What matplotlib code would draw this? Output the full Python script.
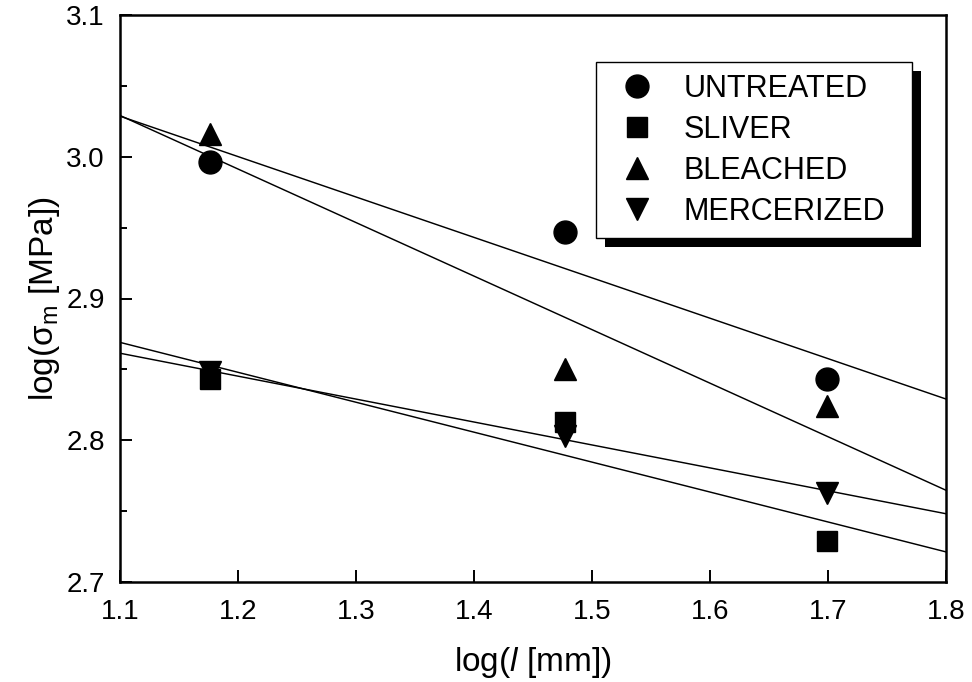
import numpy as np
import matplotlib
matplotlib.use('Agg')
import matplotlib.pyplot as plt
from matplotlib.patches import Rectangle
from matplotlib.transforms import IdentityTransform
from matplotlib.ticker import MultipleLocator

plt.rcParams['font.family'] = ['Liberation Sans', 'DejaVu Sans']
plt.rcParams['mathtext.fontset'] = 'custom'
plt.rcParams['mathtext.rm'] = 'Liberation Sans'
plt.rcParams['mathtext.it'] = 'Liberation Sans:italic'

# log of gauge length (mm) and log of strength (MPa)
log_l = [1.176, 1.477, 1.699]
untreated = [2.996, 2.947, 2.843]
sliver = [2.843, 2.813, 2.729]
bleached = [3.016, 2.850, 2.824]
mercerized = [2.848, 2.803, 2.763]

labels = ['UNTREATED', 'SLIVER', 'BLEACHED', 'MERCERIZED']
markers = ['o', 's', '^', 'v']
sizes = [16.5, 15, 15.5, 15.5]

fig = plt.figure(figsize=(9.72, 6.82), dpi=100)
ax = fig.add_axes([120/972, 1-582/682, 826/972, 567/682])

xlim = (1.1, 1.8)
xfit = np.array(xlim)
for y, m, s, lab in zip([untreated, sliver, bleached, mercerized], markers, sizes, labels):
    ax.plot(log_l, y, linestyle='none', marker=m, ms=s, color='k', label=lab, zorder=3)
    # least squares line through each series
    k, b = np.polyfit(log_l, y, 1)
    ax.plot(xfit, k*xfit + b, color='k', lw=1.05, zorder=2)

ax.set_xlim(*xlim)
ax.set_ylim(2.7, 3.1)
ax.xaxis.set_major_locator(MultipleLocator(0.1))
ax.yaxis.set_major_locator(MultipleLocator(0.1))
ax.yaxis.set_minor_locator(MultipleLocator(0.05))
ax.tick_params(axis='both', which='major', direction='in', width=1.4, labelsize=20)
ax.tick_params(axis='x', which='major', length=9, pad=12)
ax.tick_params(axis='y', which='major', length=8.5, pad=11)
ax.tick_params(axis='y', which='minor', direction='in', length=5, width=1.4)
for sp in ax.spines.values():
    sp.set_linewidth(1.8)

ax.set_xlabel(r'log($\it{l}$ [mm])', fontsize=24, labelpad=15)
ax.set_ylabel(r'log(σ$_{\rm m}$ [MPa])', fontsize=24, labelpad=3)

leg = ax.legend(loc='upper left', bbox_to_anchor=(596/972, 1-62/682-0.01, 316/972, 0.01),
                bbox_transform=fig.transFigure, mode='expand', borderaxespad=0,
                fontsize=22, frameon=True, fancybox=False, framealpha=1,
                edgecolor='k', handlelength=1.9, handletextpad=0.6,
                borderpad=0.38, labelspacing=0.36, numpoints=1)
leg.get_frame().set_linewidth(1.0)

# offset black shadow behind the legend box
fig.canvas.draw()
bb = leg.get_frame().get_window_extent()
shadow = Rectangle((bb.x0 + 9, bb.y0 - 9), bb.width, bb.height, transform=IdentityTransform(),
                   facecolor='k', edgecolor='none', zorder=4.5, clip_on=False)
ax.add_patch(shadow)

fig.savefig('out.png', dpi=100)
